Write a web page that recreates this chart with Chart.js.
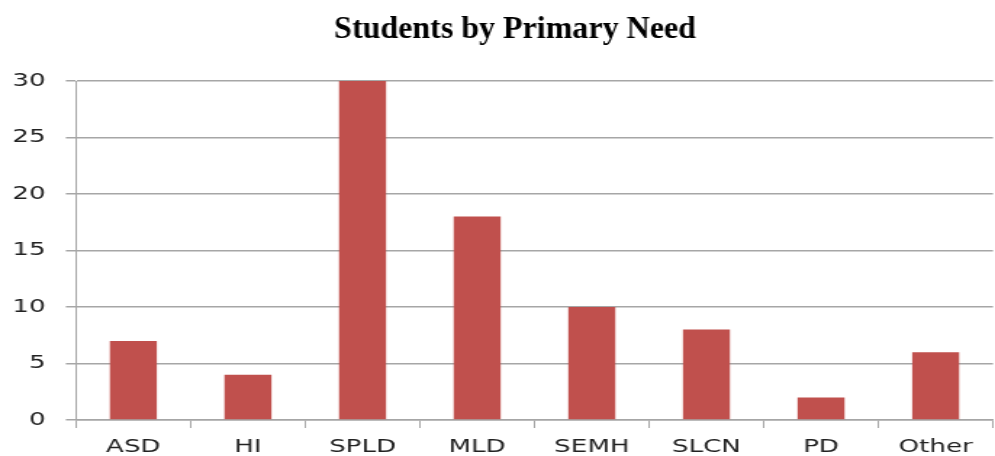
<!DOCTYPE html>
<html>
<head>
<meta charset="utf-8">
<script src="https://cdn.jsdelivr.net/npm/chart.js@4"></script>
<style>
  html, body { margin: 0; padding: 0; background: #fff; overflow: hidden; }
  #wrap { width: 995px; height: 456px; }
  /* the original picture is stretched sideways, so draw narrow and widen */
  #needChart { transform: scaleX(1.45044); transform-origin: 0 0; }
</style>
</head>
<body>
<div id="wrap"><canvas id="needChart" width="686" height="456" style="width:686px;height:456px"></canvas></div>
<script>
var categories = ["ASD", "HI", "SPLD", "MLD", "SEMH", "SLCN", "PD", "Other"];
var studentCounts = [7, 4, 30, 18, 10, 8, 2, 6];
var yTicks = [0, 5, 10, 15, 20, 25, 30];
var chartTitle = "Students by Primary Need";

var stretch = 995 / 686;
var gridGray = "#a6a6a6";
var ctx = document.getElementById("needChart");

// title is drawn unstretched, so undo the sideways scale for it
var titlePlugin = {
  id: "plainTitle",
  afterDraw: function(chart) {
    var c = chart.ctx;
    c.save();
    c.scale(1 / stretch, 1);
    c.fillStyle = "#000";
    c.font = "bold 32px 'Liberation Serif'";
    c.textAlign = "center";
    c.textBaseline = "middle";
    c.fillText(chartTitle, 515, 30);
    c.restore();
  }
};

let needChart = new Chart(ctx, {
  type: "bar",
  data: {
    labels: categories,
    datasets: [{
      label: "Students",
      data: studentCounts,
      backgroundColor: "#c0504d",
      borderWidth: 0,
      categoryPercentage: 1,
      barPercentage: 0.41
    }]
  },
  plugins: [titlePlugin],
  options: {
    responsive: false,
    animation: false,
    devicePixelRatio: 1,
    layout: { padding: { left: 0, right: 1.4, top: 81, bottom: 0 } },
    plugins: {
      legend: { display: false },
      tooltip: { enabled: false },
      title: { display: false }
    },
    scales: {
      x: {
        grid: {
          offset: true,
          drawOnChartArea: false,
          color: gridGray,
          tickLength: 8,
          tickWidth: 1
        },
        border: { color: gridGray, width: 1.5 },
        ticks: {
          color: "#222",
          padding: 9,
          font: { family: "DejaVu Sans", size: 18 }
        },
        afterFit: function(scale) { scale.height = 36; }
      },
      y: {
        min: 0,
        max: 30,
        afterBuildTicks: function(scale) {
          scale.ticks = yTicks.map(v => ({ value: v }));
        },
        grid: {
          color: gridGray,
          lineWidth: 1.5,
          tickLength: 7
        },
        border: { color: gridGray, width: 1 },
        ticks: {
          color: "#222",
          padding: 14,
          font: { family: "DejaVu Sans", size: 18 }
        },
        afterFit: function(scale) { scale.width = 52.4; }
      }
    }
  }
});
</script>
</body>
</html>
